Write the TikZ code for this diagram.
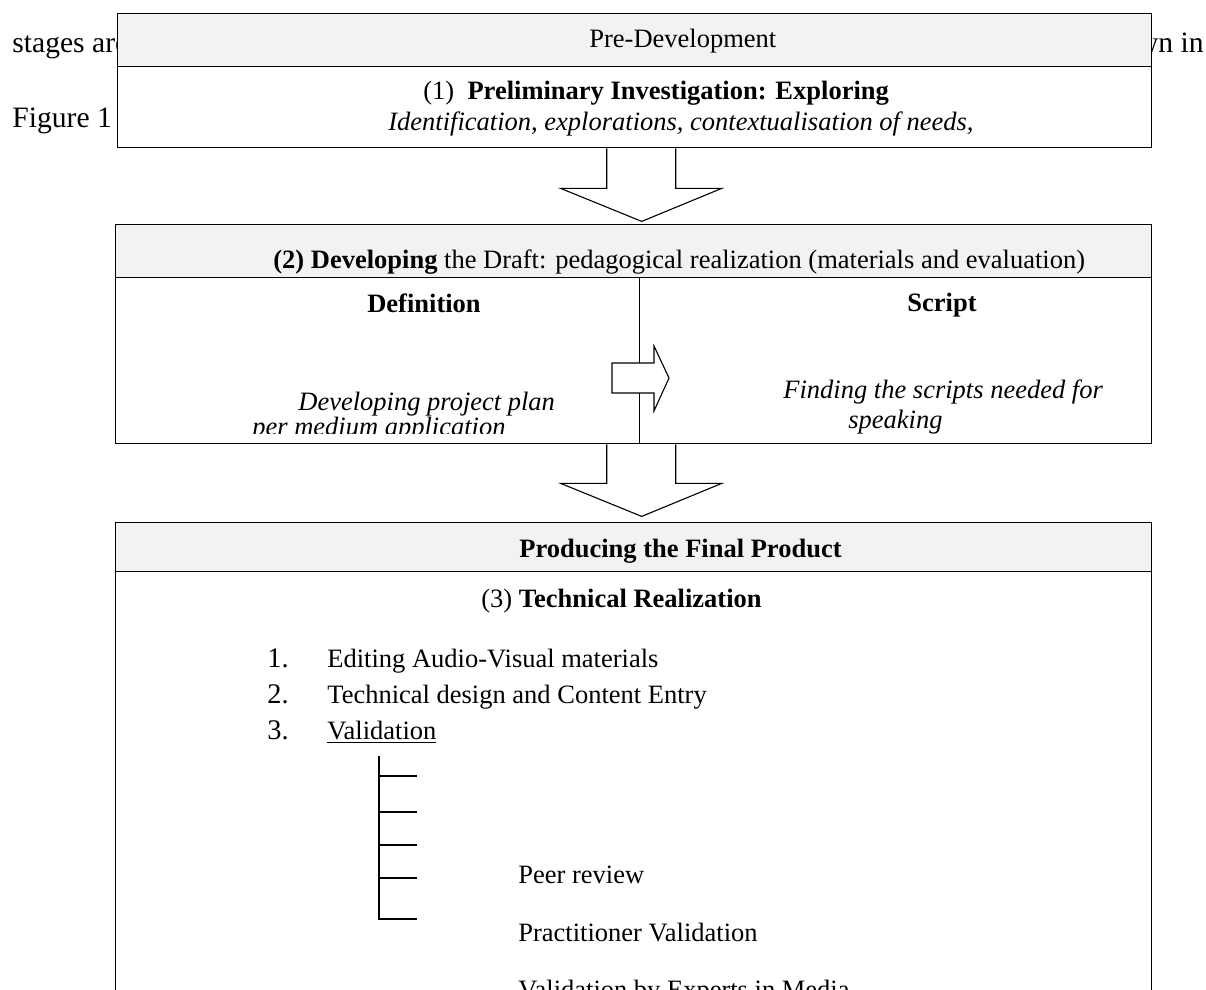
\documentclass[tikz,border=0pt]{standalone}
\usepackage{fontspec}
\setmainfont{Liberation Serif}
\usetikzlibrary{calc}
\definecolor{headgray}{RGB}{242,242,242}
\tikzstyle{headbox} = [rectangle, draw=black, line width=0.7pt, fill=headgray, inner sep=0pt, anchor=north west]
\tikzstyle{bodybox} = [rectangle, draw=black, line width=0.7pt, fill=white, inner sep=0pt, anchor=north west]
\tikzstyle{txt} = [inner sep=0pt, anchor=base west, font=\fontsize{13.25}{16}\selectfont]
\tikzstyle{numtxt} = [inner sep=0pt, anchor=base west, font=\fontsize{14.2}{17}\selectfont]
\tikzstyle{pagetxt} = [inner sep=0pt, anchor=base west, font=\fontsize{14.8}{18}\selectfont]
\tikzstyle{blockarrow} = [draw=black, line width=0.55pt, fill=white, line join=miter]
\tikzstyle{treeline} = [line width=0.7pt]

\begin{document}
\begin{tikzpicture}[x=0.5pt,y=-0.5pt]
\useasboundingbox (0,0) rectangle (1206,990);
\clip (0,0) rectangle (1206,990);

%%% page text behind the figure %%%
\node (stages) [pagetxt] at (12,53) {stages are};
\node (figure) [pagetxt] at (12,128) {Figure 1};
\node (shown) [pagetxt, anchor=base east] at (1204,53) {shown in};

%%% pre-development %%%
\node (prehead) [headbox, minimum width=517pt, minimum height=26.5pt] at (117,13) {};
\node (prebody) [bodybox, minimum width=517pt, minimum height=40.5pt] at (117,66) {};
\node (pretitle) [txt] at (589,48) {Pre-Development};
\node (prestep) [txt] at (423,100) {(1)\ \ \textbf{Preliminary Investigation: Exploring}};
\node (preneeds) [txt] at (388,131) {\textit{Identification, explorations, contextualisation of needs,}};

%%% developing %%%
\node (devhead) [headbox, minimum width=518pt, minimum height=26.5pt] at (115,224) {};
\node (devbody) [bodybox, minimum width=518pt, minimum height=83pt] at (115,277) {};
\node (devtitle) [txt] at (273,268) {\textbf{(2) Developing} the Draft: pedagogical realization (materials and evaluation)};
\node (defn) [txt, anchor=base] at (424,313) {\textbf{Definition}};
\node (script) [txt, anchor=base] at (942,311) {\textbf{Script}};
\begin{scope}
\clip (115,277) rectangle (639,433);
\node (defplan) [txt] at (298,410) {\textit{Developing project plan}};
\node (defmedium) [txt] at (252,435) {\textit{per medium application}};
\end{scope}
\node (scrfind) [txt] at (783,398) {\textit{Finding the scripts needed for}};
\node (scrspeak) [txt] at (848,428) {\textit{speaking}};

\draw [line width=0.55pt] ([xshift=3pt]devhead.south) -- ([xshift=3pt]devbody.south);
\coordinate (turn) at (639,378);
\draw [blockarrow] (turn) ++(-27,-15) -- ++(42,0) -- ++(0,-17) -- ++(15,32) -- ++(-15,33) -- ++(0,-18) -- ++(-42,0) -- cycle;

%%% producing %%%
\node (prodhead) [headbox, minimum width=518pt, minimum height=24.5pt] at (115,522) {};
\node (prodbody) [bodybox, minimum width=518pt, minimum height=220pt] at (115,571) {};
\node (prodtitle) [txt] at (519,557) {\textbf{Producing the Final Product}};
\node (techtitle) [txt] at (481,607) {(3) \textbf{Technical Realization}};
\node (num1) [numtxt] at (267,667) {1.};
\node (editing) [txt] at (327,667) {Editing Audio-Visual materials};
\node (num2) [numtxt] at (267,703) {2.};
\node (design) [txt] at (327,703) {Technical design and Content Entry};
\node (num3) [numtxt] at (267,739) {3.};
\node (valid) [txt] at (327,739) {\underline{Validation}};

\draw [treeline] (379,756) |- (417,919);
\foreach \ty in {776,812,845,878}
  \draw [treeline] (379,\ty) -- (417,\ty);
\node (peer) [txt] at (518,883) {Peer review};
\node (practice) [txt] at (518,941) {Practitioner Validation};
\node (experts) [txt] at (518,998) {Validation by Experts in Media};

%%% arrows %%%
\draw [blockarrow] (prebody.south) ++(-28,0) -- ++(0,40) -- ++(-46,0) -- ++(81,33) -- ++(80,-33) -- ++(-46,0) -- ++(0,-40);
\draw [blockarrow] (devbody.south) ++(-27,0) -- ++(0,39) -- ++(-46,0) -- ++(81,33) -- ++(80,-33) -- ++(-46,0) -- ++(0,-39);
\end{tikzpicture}
\end{document}
